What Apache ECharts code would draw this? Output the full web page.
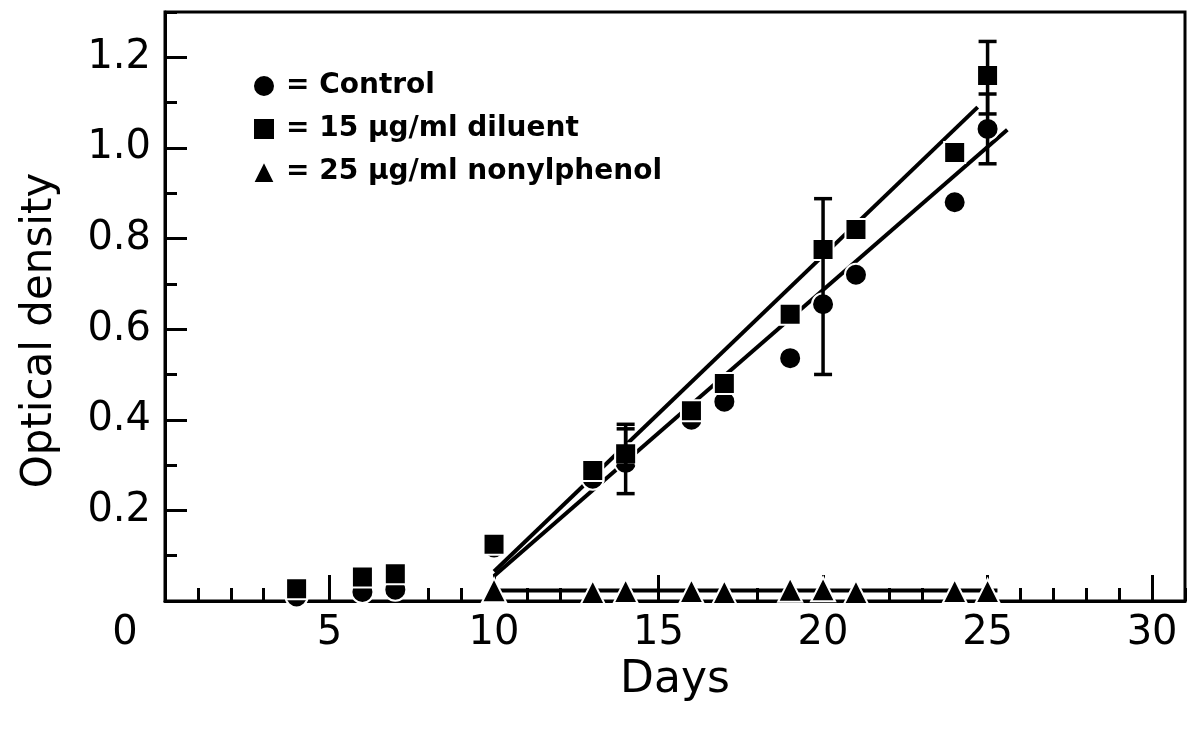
<!DOCTYPE html>
<html>
<head>
<meta charset="utf-8">
<script src="https://cdn.jsdelivr.net/npm/echarts@6/dist/echarts.min.js"></script>
<style>
  html, body { margin: 0; padding: 0; background: #fff; }
  #chart { width: 1193px; height: 740px; }
</style>
</head>
<body>
<div id="chart"></div>
<script>
// data
var controlDays = [4, 6, 7, 10, 13, 14, 16, 17, 19, 20, 21, 24, 25];
var controlOD = [0.01, 0.02, 0.025, 0.118, 0.27, 0.305, 0.40, 0.44, 0.536, 0.655, 0.72, 0.88, 1.042];
var diluentDays = [4, 6, 7, 10, 13, 14, 16, 17, 19, 20, 21, 24, 25];
var diluentOD = [0.027, 0.053, 0.06, 0.125, 0.288, 0.325, 0.42, 0.48, 0.633, 0.776, 0.82, 0.99, 1.16];
var nonylDays = [10, 13, 14, 16, 17, 19, 20, 21, 24, 25];
var nonylOD = [0.024, 0.02, 0.022, 0.022, 0.02, 0.025, 0.026, 0.02, 0.022, 0.022];

// error bars: day, low, high
var controlErrDays = [14, 20, 25];
var controlErrLow = [0.237, 0.50, 0.965];
var controlErrHigh = [0.38, 0.888, 1.119];
var diluentErrDays = [14, 25];
var diluentErrLow = [0.30, 1.075];
var diluentErrHigh = [0.39, 1.235];

// fitted lines
var controlFitDays = [10, 25.6];
var controlFitOD = [0.055, 1.04];
var diluentFitDays = [10, 24.7];
var diluentFitOD = [0.065, 1.09];
var nonylFitDays = [10, 25.3];
var nonylFitOD = [0.023, 0.023];

var seriesNames = ['Control', '15 μg/ml diluent', '25 μg/ml nonylphenol'];

function pairs (xs, ys) {
  return xs.map(function (x, i) { return [x, ys[i]]; });
}
function triples (xs, lo, hi) {
  return xs.map(function (x, i) { return [x, lo[i], hi[i]]; });
}

var tickFont = 'DejaVu Sans';

function renderErr (params, api) {
  var x = api.value(0);
  var top = api.coord([x, api.value(2)]);
  var bot = api.coord([x, api.value(1)]);
  var w = 9;
  var st = { stroke: '#000', lineWidth: 3.5 };
  return {
    type: 'group',
    children: [
      { type: 'line', shape: { x1: top[0], y1: top[1], x2: bot[0], y2: bot[1] }, style: st },
      { type: 'line', shape: { x1: top[0] - w, y1: top[1], x2: top[0] + w, y2: top[1] }, style: st },
      { type: 'line', shape: { x1: bot[0] - w, y1: bot[1], x2: bot[0] + w, y2: bot[1] }, style: st }
    ]
  };
}

var myChart = echarts.init(document.getElementById('chart'));

var option = {
  animation: false,
  backgroundColor: '#fff',
  grid: {
    left: 165,
    right: 8,
    top: 12,
    bottom: 139,
    show: true,
    borderColor: '#000',
    borderWidth: 3
  },
  legend: {
    data: [
      { name: seriesNames[0], icon: 'circle' },
      { name: seriesNames[1], icon: 'rect' },
      { name: seriesNames[2], icon: 'triangle' }
    ],
    orient: 'vertical',
    left: 247,
    top: 67,
    itemWidth: 22,
    itemHeight: 22,
    itemGap: 15,
    formatter: function (name) { return '= ' + name; },
    textStyle: {
      fontFamily: tickFont,
      fontWeight: 'bold',
      fontSize: 28,
      color: '#000',
      padding: [0, 0, 0, 6]
    }
  },
  xAxis: [
    {
      type: 'value',
      position: 'bottom',
      min: 0,
      max: 31,
      interval: 5,
      name: 'Days',
      nameLocation: 'middle',
      nameGap: 58,
      nameTextStyle: { fontFamily: tickFont, fontSize: 44, color: '#000' },
      axisLine: { lineStyle: { color: '#000', width: 3 } },
      axisTick: { inside: true, length: 26, lineStyle: { color: '#000', width: 3 } },
      splitLine: { show: false },
      axisLabel: {
        showMaxLabel: false,
        margin: 13,
        fontFamily: tickFont,
        fontSize: 40,
        color: '#000',
        formatter: function (v) { return v === 0 ? '{z|0}' : String(v); },
        rich: {
          z: { fontFamily: tickFont, fontSize: 40, color: '#000', padding: [0, 80, 0, 0] }
        }
      }
    },
    {
      type: 'value',
      position: 'bottom',
      min: 0,
      max: 31,
      interval: 1,
      axisLine: { show: false },
      axisTick: { inside: true, length: 13, lineStyle: { color: '#000', width: 3 } },
      axisLabel: { show: false },
      splitLine: { show: false }
    }
  ],
  yAxis: [
    {
      type: 'value',
      position: 'left',
      min: 0,
      max: 1.3,
      interval: 0.2,
      name: 'Optical density',
      nameLocation: 'middle',
      nameGap: 104,
      nameTextStyle: { fontFamily: tickFont, fontSize: 42, color: '#000', padding: [0, 48, 0, 0] },
      axisLine: { lineStyle: { color: '#000', width: 3 } },
      axisTick: { inside: true, length: 22, lineStyle: { color: '#000', width: 3 } },
      splitLine: { show: false },
      axisLabel: {
        showMaxLabel: false,
        margin: 14,
        fontFamily: tickFont,
        fontSize: 40,
        color: '#000',
        formatter: function (v) { return v === 0 ? '' : v.toFixed(1); }
      }
    },
    {
      type: 'value',
      position: 'left',
      min: 0,
      max: 1.3,
      interval: 0.1,
      axisLine: { show: false },
      axisTick: { inside: true, length: 12, lineStyle: { color: '#000', width: 3 } },
      axisLabel: { show: false },
      splitLine: { show: false }
    }
  ],
  series: [
    {
      type: 'line',
      name: 'controlFit',
      data: pairs(controlFitDays, controlFitOD),
      symbol: 'none',
      lineStyle: { color: '#000', width: 4 },
      z: 2
    },
    {
      type: 'line',
      name: 'diluentFit',
      data: pairs(diluentFitDays, diluentFitOD),
      symbol: 'none',
      lineStyle: { color: '#000', width: 4 },
      z: 2
    },
    {
      type: 'line',
      name: 'nonylFit',
      data: pairs(nonylFitDays, nonylFitOD),
      symbol: 'none',
      lineStyle: { color: '#000', width: 4 },
      z: 2
    },
    {
      type: 'scatter',
      name: seriesNames[0],
      data: pairs(controlDays, controlOD),
      symbol: 'circle',
      symbolSize: 22,
      itemStyle: { color: '#000', borderColor: '#fff', borderWidth: 2, opacity: 1 },
      z: 4
    },
    {
      type: 'scatter',
      name: seriesNames[1],
      data: pairs(diluentDays, diluentOD),
      symbol: 'rect',
      symbolSize: 21,
      itemStyle: { color: '#000', borderColor: '#fff', borderWidth: 2, opacity: 1 },
      z: 4
    },
    {
      type: 'scatter',
      name: seriesNames[2],
      data: pairs(nonylDays, nonylOD),
      symbol: 'triangle',
      symbolSize: [24, 24],
      itemStyle: { color: '#000', borderColor: '#fff', borderWidth: 2, opacity: 1 },
      z: 4
    },
    {
      type: 'custom',
      name: 'controlErr',
      data: triples(controlErrDays, controlErrLow, controlErrHigh),
      renderItem: renderErr,
      encode: { x: 0, y: [1, 2] },
      z: 5
    },
    {
      type: 'custom',
      name: 'diluentErr',
      data: triples(diluentErrDays, diluentErrLow, diluentErrHigh),
      renderItem: renderErr,
      encode: { x: 0, y: [1, 2] },
      z: 5
    }
  ]
};

myChart.setOption(option);
</script>
</body>
</html>
